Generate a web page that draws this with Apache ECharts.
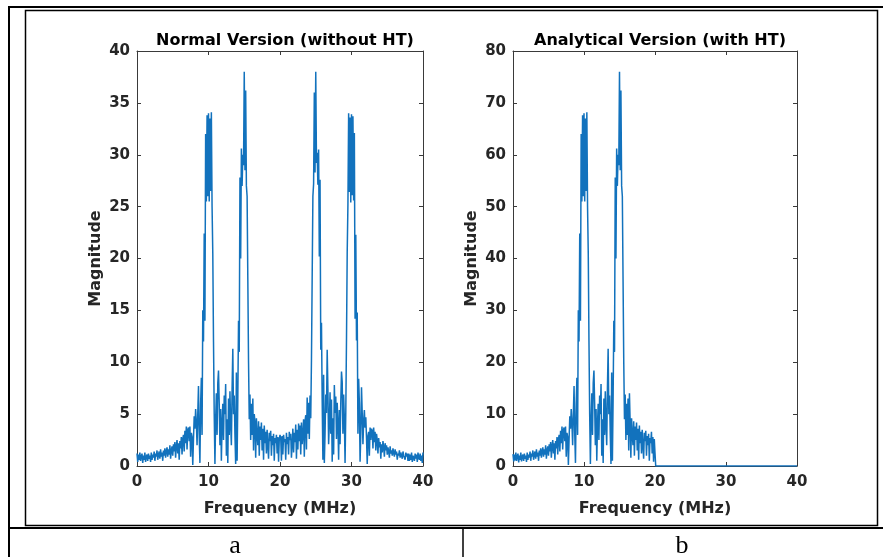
<!DOCTYPE html>
<html>
<head>
<meta charset="utf-8">
<script src="https://cdn.jsdelivr.net/npm/echarts@6/dist/echarts.min.js"></script>
<style>
html,body{margin:0;padding:0;background:#fff;}
#chart{width:883px;height:557px;}
</style>
</head>
<body>
<div id="chart"></div>
<script>
// Frequency grid (MHz), 0.1 MHz step
var freqs = Array.from({length: 401}, function (_, i) { return +(i * 0.1).toFixed(1); });

// Panel a: Normal Version (without HT), magnitude 0..40 MHz
var magA = [
1.2,0.4,1.1,0.6,1.3,0.5,0.9,1.2,0.3,1.0,
0.6,1.3,0.4,0.9,1.1,0.5,1.2,0.7,1.0,0.4,
1.3,0.6,1.1,0.8,1.4,0.5,1.2,0.9,1.5,0.6,
1.1,1.4,0.7,1.6,0.9,1.3,0.5,1.5,1.0,1.7,
0.8,1.4,1.8,0.9,1.6,1.1,2.0,0.7,1.5,1.9,
1.0,2.1,1.4,2.3,0.8,1.9,2.5,1.2,2.2,0.6,
2.4,1.7,2.8,1.1,2.6,3.0,1.4,3.4,2.2,3.8,
1.6,3.5,3.7,2.4,3.8,0.9,3.2,2.8,0.1,2.6,
4.8,3.6,5.5,4.2,2.0,5.0,7.7,3.0,0.3,6.0,
8.5,3.0,15.0,12.0,22.4,14.0,32.0,25.5,33.8,26.0,
34.0,25.5,33.5,26.5,34.1,25.0,20.5,12.0,5.0,0.2,
4.5,7.0,3.0,8.0,9.2,6.0,2.0,5.5,0.5,4.0,
6.0,2.5,6.8,5.0,7.9,1.0,4.5,0.3,6.5,3.0,
7.2,4.0,2.0,7.5,11.3,5.0,6.8,3.0,0.2,9.0,
0.5,6.5,14.0,11.0,27.8,20.0,30.6,27.0,30.0,29.0,
38.0,28.5,36.2,27.0,26.0,18.0,10.0,4.5,6.9,2.5,
6.0,3.0,6.5,1.5,5.0,4.2,0.8,4.6,3.0,2.0,
4.3,1.0,3.8,2.5,4.2,1.5,3.6,0.6,3.9,2.2,
3.3,1.2,3.5,2.0,0.7,3.2,2.4,3.4,1.0,2.9,
2.0,3.1,0.5,2.7,2.2,3.0,1.2,2.8,0.4,2.6,
3.0,
2.7,0.5,2.9,1.1,3.0,2.3,2.6,0.6,3.2,2.1,
2.8,1.1,3.3,2.5,3.1,0.8,2.1,3.6,1.3,3.2,
2.3,4.0,0.7,3.5,1.6,4.1,2.4,3.9,1.1,4.2,
2.1,3.1,4.5,0.9,4.3,4.9,1.6,6.6,3.1,6.1,
2.6,6.8,4.6,10.2,18.2,26.0,27.2,36.0,28.3,38.0,
29.2,30.2,27.1,30.5,20.2,27.6,11.2,13.8,6.4,0.6,
8.8,0.3,3.1,6.9,5.1,11.2,7.4,2.1,4.1,7.1,
3.1,6.4,0.4,4.6,1.1,7.8,5.1,6.7,2.6,6.1,
4.1,0.6,5.4,2.1,6.1,9.1,8.1,3.1,6.9,4.6,
0.3,5.1,12.2,20.6,25.2,34.0,26.4,33.6,25.4,33.9,
26.1,33.7,25.6,32.1,14.2,22.3,12.1,14.8,3.1,8.4,
6.1,0.4,3.1,7.6,5.1,2.1,4.3,5.4,3.7,4.7,
2.7,0.2,2.9,3.3,1.0,3.7,2.5,3.6,3.4,1.7,
3.7,2.3,3.3,1.5,3.1,2.5,1.2,2.7,1.8,2.3,
0.7,2.1,1.3,2.4,1.8,0.9,2.2,1.5,2.0,1.1,
1.8,1.4,0.8,1.9,1.2,1.5,1.0,1.7,1.3,0.9,
1.6,1.1,1.4,0.6,1.2,1.0,1.5,0.8,1.3,1.0,
0.7,1.4,1.0,1.1,0.6,1.3,0.9,1.2,0.5,1.2,
0.5,1.1,0.6,1.3,0.4,1.0,0.8,0.5,1.2,0.7,
1.1,0.4,1.3,0.8,0.6,1.2,0.5,1.0,0.3,1.3
];

// Panel b: Analytical Version (with HT), magnitude 0..20 MHz (0.1 MHz step)
var magB = [
2.3,0.9,2.2,1.1,2.6,1.0,1.8,2.4,0.7,2.0,
1.2,2.6,0.9,1.8,2.2,1.0,2.4,1.4,2.0,0.8,
2.6,1.2,2.2,1.6,2.8,1.0,2.4,1.8,3.0,1.2,
2.2,2.8,1.4,3.2,1.8,2.6,1.0,3.0,2.0,3.4,
1.6,2.8,3.6,1.8,3.2,2.2,4.0,1.4,3.0,3.8,
2.0,4.2,2.8,4.6,1.6,3.8,5.0,2.4,4.4,1.2,
4.8,3.4,5.6,2.2,5.2,6.0,2.8,6.8,4.4,7.6,
3.2,7.0,7.4,4.8,7.6,1.8,6.4,5.6,0.2,5.2,
9.6,7.2,11.0,8.4,4.0,10.0,15.4,6.0,0.6,12.0,
17.0,6.0,30.0,24.0,44.8,28.0,64.0,51.0,67.6,52.0,
68.0,51.0,67.0,53.0,68.2,50.0,41.0,24.0,10.0,0.4,
9.0,14.0,6.0,16.0,18.4,12.0,4.0,11.0,1.0,8.0,
12.0,5.0,13.6,10.0,15.8,2.0,9.0,0.6,13.0,6.0,
14.4,8.0,4.0,15.0,22.6,10.0,13.6,6.0,0.4,18.0,
1.0,13.0,28.0,22.0,55.6,40.0,61.2,54.0,60.0,58.0,
76.0,57.0,72.4,54.0,52.0,36.0,20.0,9.0,13.8,5.0,
12.0,6.0,13.0,3.0,14.0,8.4,1.6,9.2,6.0,4.0,
8.6,2.0,7.6,5.0,8.4,3.0,7.2,1.2,7.8,4.4,
6.6,2.4,7.0,4.0,1.4,6.4,4.8,6.8,2.0,5.8,
4.0,6.2,1.0,5.4,4.4,6.6,2.4,5.6,0.8,5.2,
2.5
];
// Panel b above 20 MHz: flat at zero
var tailFreqB = [20.1, 40];
var tailMagB = [0, 0];

var titles = ['Normal Version (without HT)', 'Analytical Version (with HT)'];
var xName = 'Frequency (MHz)';
var yName = 'Magnitude';
var panelLabels = ['a', 'b'];

var seriesA = freqs.map(function (f, i) { return [f, magA[i]]; });
var seriesB = freqs.slice(0, magB.length).map(function (f, i) { return [f, magB[i]]; })
  .concat(tailFreqB.map(function (f, i) { return [f, tailMagB[i]]; }));

var axisColor = '#3a3a3a';
var labelColor = '#262626';
var font = '"DejaVu Sans", sans-serif';

function xAx(grid, pos, withLabel) {
  return {
    type: 'value', gridIndex: grid, position: pos, min: 0, max: 40, interval: 10,
    axisLine: {show: true, onZero: false, lineStyle: {color: axisColor, width: 1}},
    axisTick: {show: true, inside: true, length: 4, lineStyle: {color: axisColor}},
    axisLabel: {show: withLabel, color: labelColor, fontFamily: font, fontWeight: 'bold', fontSize: 15, margin: 9},
    splitLine: {show: false},
    name: withLabel ? xName : '', nameLocation: 'middle', nameGap: 35,
    nameTextStyle: {color: labelColor, fontFamily: font, fontWeight: 'bold', fontSize: 16}
  };
}
function yAx(grid, pos, max, interval, withLabel) {
  return {
    type: 'value', gridIndex: grid, position: pos, min: 0, max: max, interval: interval,
    axisLine: {show: true, onZero: false, lineStyle: {color: axisColor, width: 1}},
    axisTick: {show: true, inside: true, length: 4, lineStyle: {color: axisColor}},
    axisLabel: {show: withLabel, color: labelColor, fontFamily: font, fontWeight: 'bold', fontSize: 15, margin: 7},
    splitLine: {show: false},
    name: withLabel ? yName : '', nameLocation: 'middle', nameGap: 33, nameRotate: 90,
    nameTextStyle: {color: labelColor, fontFamily: font, fontWeight: 'bold', fontSize: 16}
  };
}

var chart = echarts.init(document.getElementById('chart'), null, {renderer: 'canvas'});
chart.setOption({
  animation: false,
  backgroundColor: '#ffffff',
  title: [
    {text: titles[0], left: 280, top: 28, textAlign: 'center',
     textStyle: {color: '#000', fontFamily: font, fontWeight: 'bold', fontSize: 16}},
    {text: titles[1], left: 655, top: 28, textAlign: 'center',
     textStyle: {color: '#000', fontFamily: font, fontWeight: 'bold', fontSize: 16}}
  ],
  grid: [
    {left: 137, top: 51, width: 286, height: 415},
    {left: 513, top: 51, width: 284, height: 415}
  ],
  xAxis: [xAx(0, 'bottom', true), xAx(0, 'top', false), xAx(1, 'bottom', true), xAx(1, 'top', false)],
  yAxis: [yAx(0, 'left', 40, 5, true), yAx(0, 'right', 40, 5, false), yAx(1, 'left', 80, 10, true), yAx(1, 'right', 80, 10, false)],
  series: [
    {type: 'line', xAxisIndex: 0, yAxisIndex: 0, data: seriesA, showSymbol: false, symbol: 'none',
     lineStyle: {color: '#1272bd', width: 1.5}, clip: true},
    {type: 'line', xAxisIndex: 2, yAxisIndex: 2, data: seriesB, showSymbol: false, symbol: 'none',
     lineStyle: {color: '#1272bd', width: 1.5}, clip: true}
  ],
  graphic: [
    {type: 'line', shape: {x1: 8, y1: 7, x2: 883, y2: 7}, style: {stroke: '#000', lineWidth: 2}, silent: true},
    {type: 'line', shape: {x1: 9, y1: 7, x2: 9, y2: 557}, style: {stroke: '#000', lineWidth: 2}, silent: true},
    {type: 'line', shape: {x1: 8, y1: 528, x2: 883, y2: 528}, style: {stroke: '#000', lineWidth: 2}, silent: true},
    {type: 'line', shape: {x1: 463, y1: 528, x2: 463, y2: 557}, style: {stroke: '#000', lineWidth: 1.5}, silent: true},
    {type: 'rect', shape: {x: 25.5, y: 10.5, width: 852, height: 515}, style: {fill: 'none', stroke: '#000', lineWidth: 1.5}, silent: true},
    {type: 'text', style: {text: panelLabels[0], x: 235, y: 546, textAlign: 'center', textVerticalAlign: 'middle',
      font: '26px "Liberation Serif", serif', fill: '#000'}, silent: true},
    {type: 'text', style: {text: panelLabels[1], x: 682, y: 546, textAlign: 'center', textVerticalAlign: 'middle',
      font: '26px "Liberation Serif", serif', fill: '#000'}, silent: true}
  ]
});
</script>
</body>
</html>
